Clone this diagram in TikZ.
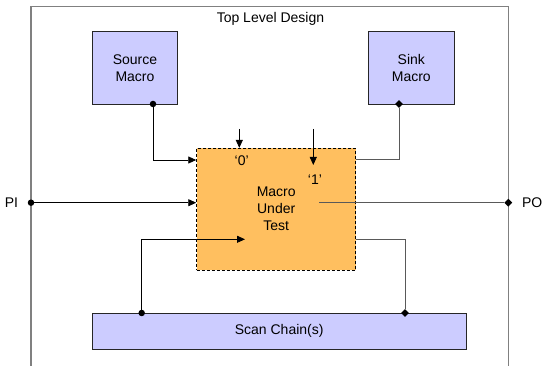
\documentclass[tikz,border=0pt]{standalone}
\usepackage{fontspec}
\setmainfont{Liberation Sans}
\usetikzlibrary{arrows.meta,positioning,shapes.geometric}
\definecolor{macrofill}{RGB}{204,204,255}
\definecolor{mutfill}{RGB}{255,191,95}

\begin{document}
\begin{tikzpicture}[x=1pt,y=-1pt,
    font=\fontsize{14}{17}\selectfont,
    >={Triangle[length=8pt,width=7pt]},
    blk/.style={draw=black!85,fill=macrofill,line width=0.8pt,align=center},
    mutbox/.style={draw,fill=mutfill,line width=0.9pt,dash pattern=on 3pt off 2pt,align=center},
    wire/.style={line width=0.9pt},
    owire/.style={line width=1pt,black!65},
    dot/.style={circle,fill,inner sep=0pt,minimum size=6.5pt},
    dmd/.style={diamond,fill,inner sep=0pt,minimum size=8pt}]
  \useasboundingbox (0,0) rectangle (542,366);
  % outer design frame
  \draw[gray,line width=1.3pt] (31,366) |- (508.3,6.3) -- (508.3,366);
  \node (top) at (270.5,19) {Top Level Design};

  \node[blk,minimum width=85.4pt,minimum height=72.7pt] (src) at (135,67.7) {Source\\Macro};
  \node[blk,minimum width=86pt,minimum height=72.7pt] (snk) at (411.3,67.7) {Sink\\Macro};
  \node[mutbox,minimum width=159pt,minimum height=121.7pt] (mut) at (276.2,209.2) {Macro\\Under\\Test};
  \node[blk,minimum width=373.7pt,minimum height=36.7pt] (scan) at (279.2,331.3) {Scan Chain(s)};

  \node[dot] (srcpin) at (153,104) {};
  \node[dmd] (snkpin) at (399,104) {};
  \node[dot] (pi) at (31,202.7) {};
  \node[dmd] (po) at (508.3,202.7) {};
  \node[dot] (scanin) at (141.7,313) {};
  \node[dmd] (scanout) at (405,313) {};
  \node[left=6pt of pi] (pilabel) {PI};
  \node[right=6pt of po] (polabel) {PO};

  \coordinate (c0) at (239.3,129);
  \coordinate (c1) at (313.3,129);
  \coordinate (e1) at (313.3,165);
  \coordinate (e2) at (245,239.3);
  \coordinate (poin) at (319,202.7);
  \node (zero) at (241.7,160.7) {‘0’};
  \node (one) at (315,179.3) {‘1’};

  \draw[wire,->] (srcpin) |- (mut.west |- 0,160);
  \draw[wire,->] (c0) -- (c0 |- mut.north);
  \draw[wire,->] (c1) -- (e1);
  \draw[wire,->] (pi) -- (mut.west |- pi);
  \draw[wire,->] (scanin) |- (e2);
  \draw[owire] (poin) -- (po);
  \draw[owire] (mut.east |- 0,160) -| (snkpin);
  \draw[owire] (mut.east |- e2) -| (scanout);
\end{tikzpicture}
\end{document}
